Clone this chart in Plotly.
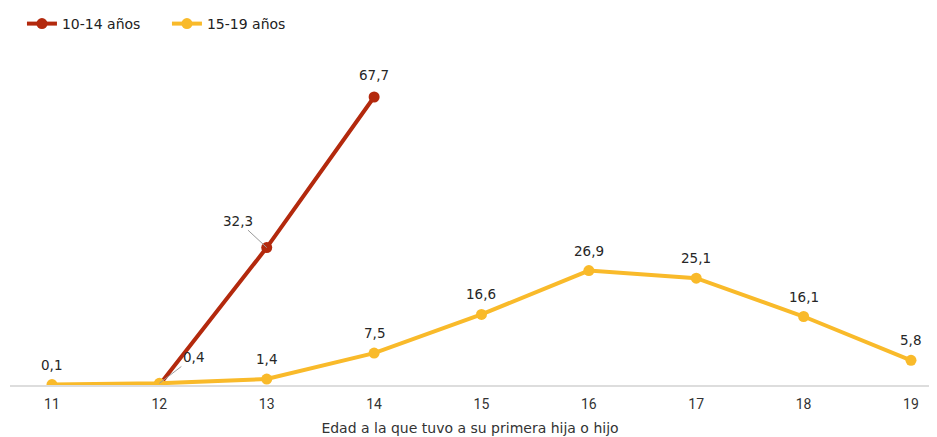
import plotly.graph_objects as go

ages = [11, 12, 13, 14, 15, 16, 17, 18, 19]
age_10_14 = [12, 13, 14]
val_10_14 = [0.0, 32.3, 67.7]
val_15_19 = [0.1, 0.4, 1.4, 7.5, 16.6, 26.9, 25.1, 16.1, 5.8]
series_names = ["10-14 años", "15-19 años"]
x_title = "Edad a la que tuvo a su primera hija o hijo"

RED = "#B3290D"
YEL = "#F9BA2A"
FONT = "DejaVu Sans, Open Sans, sans-serif"
TICKFONT = "Liberation Sans Narrow, Roboto, sans-serif"

def fmt(v):
    return f"{v:.1f}".replace(".", ",")

fig = go.Figure()
fig.add_trace(go.Scatter(x=age_10_14, y=val_10_14, mode="lines+markers", name=series_names[0],
                         line=dict(color=RED, width=4), marker=dict(color=RED, size=11)))
fig.add_trace(go.Scatter(x=ages, y=val_15_19, mode="lines+markers", name=series_names[1],
                         line=dict(color=YEL, width=4), marker=dict(color=YEL, size=11)))

ann = []
# 15-19 labels
for a, v in zip(ages, val_15_19):
    if a == 12:
        ann.append(dict(x=a, y=v, text=fmt(v), showarrow=True, arrowhead=0, arrowwidth=1,
                        arrowcolor="#9a9a9a", ax=34, ay=-26, xanchor="center"))
    else:
        ann.append(dict(x=a, y=v, text=fmt(v), showarrow=False, yshift=20))
# 10-14 labels
for a, v in zip(age_10_14, val_10_14):
    if a == 12:
        continue
    if a == 13:
        ann.append(dict(x=a, y=v, text=fmt(v), showarrow=True, arrowhead=0, arrowwidth=1,
                        arrowcolor="#9a9a9a", ax=-29, ay=-27))
    else:
        ann.append(dict(x=a, y=v, text=fmt(v), showarrow=False, yshift=22))
for an in ann:
    an["font"] = dict(family=FONT, size=13.5, color="#262626")

fig.update_layout(
    width=929, height=429,
    margin=dict(l=2, r=7, t=52, b=52, autoexpand=False),
    paper_bgcolor="white", plot_bgcolor="white",
    font=dict(family=FONT, size=14, color="#333333"),
    annotations=ann,
    showlegend=True,
    legend=dict(orientation="h", x=0.013, y=1.0, yref="container", xanchor="left", yanchor="top",
                font=dict(family=FONT, size=14, color="#222222"), itemwidth=30,
                entrywidth=100, entrywidthmode="pixels"),
    xaxis=dict(range=[10.609, 19.177], tickmode="array", tickvals=ages,
               ticktext=[str(a) for a in ages], showgrid=False, zeroline=False,
               showline=True, linecolor="#dddddd", linewidth=2, ticks="",
               automargin=False,
               ticklabelstandoff=5, tickfont=dict(family=TICKFONT, size=14, color="#333333"),
               title=dict(text=x_title, font=dict(family=FONT, size=14, color="#333333"), standoff=12)),
    yaxis=dict(range=[0, 76.4], visible=False, showgrid=False, zeroline=False, automargin=False),
)
fig.write_html("out.html")
